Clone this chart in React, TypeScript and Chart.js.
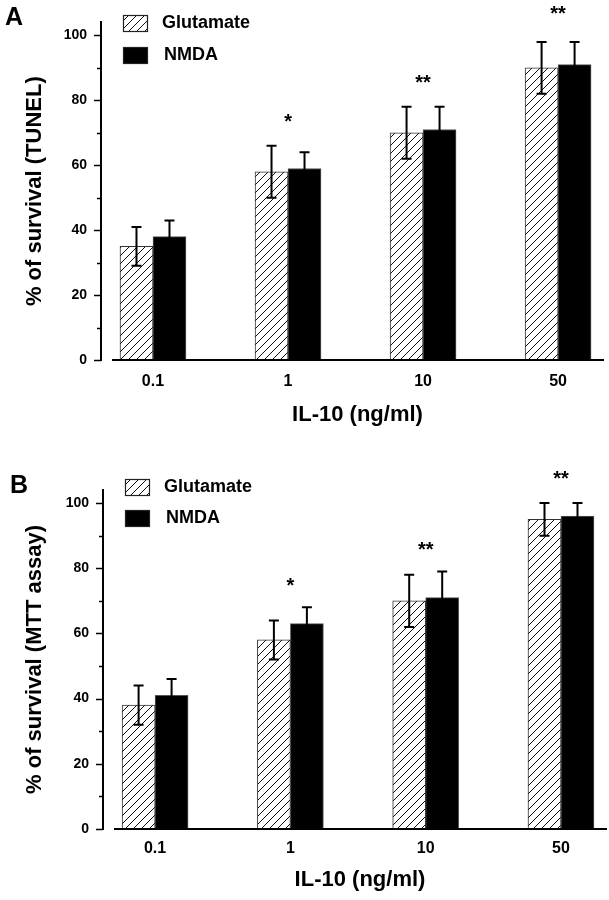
import React, { useEffect, useRef } from "react";
import { Chart, registerables } from "chart.js";

Chart.register(...registerables);

const FONT = "Arial, 'Liberation Sans', Helvetica, sans-serif";

// ---- data ----
const categories = ["0.1", "1", "10", "50"];
const seriesNames = ["Glutamate", "NMDA"];

const tunelGlutamate = [35, 58, 70, 90];
const tunelGlutamateErr = [6, 8, 8, 8];
const tunelNMDA = [38, 59, 71, 91];
const tunelNMDAErr = [5, 5, 7, 7];
const tunelSigMarks = ["", "*", "**", "**"];
const tunelSigY = [0, 75, 87, 108];

const mttGlutamate = [38, 58, 70, 95];
const mttGlutamateErr = [6, 6, 8, 5];
const mttNMDA = [41, 63, 71, 96];
const mttNMDAErr = [5, 5, 8, 4];
const mttSigMarks = ["", "*", "**", "**"];
const mttSigY = [0, 76, 87, 109];

const yMin = 0;
const yMax = 104;
const yStep = 10;
const yLabelStep = 20;
const xTitle = "IL-10 (ng/ml)";

function makeHatch(): CanvasPattern | string {
  const s = 8;
  const c = document.createElement("canvas");
  c.width = s;
  c.height = s;
  const g = c.getContext("2d");
  if (!g) return "#fff";
  g.fillStyle = "#fff";
  g.fillRect(0, 0, s, s);
  g.strokeStyle = "#111";
  g.lineWidth = 1;
  g.beginPath();
  g.moveTo(0, s);
  g.lineTo(s, 0);
  g.moveTo(-s / 2, s / 2);
  g.lineTo(s / 2, -s / 2);
  g.moveTo(s / 2, s * 1.5);
  g.lineTo(s * 1.5, s / 2);
  g.stroke();
  return g.createPattern(c, "repeat") || "#fff";
}

const decorPlugin = {
  id: "decor",
  afterDatasetsDraw(chart: any) {
    const ctx = chart.ctx;
    const y = chart.scales.y;
    chart.data.datasets.forEach((ds: any, di: number) => {
      const meta = chart.getDatasetMeta(di);
      meta.data.forEach((bar: any, i: number) => {
        const v = ds.data[i].y;
        const e = ds.errors[i];
        const top = y.getPixelForValue(v + e);
        const bot = y.getPixelForValue(v - e);
        ctx.save();
        ctx.strokeStyle = "#000";
        ctx.lineWidth = 2;
        ctx.beginPath();
        ctx.moveTo(bar.x, top);
        ctx.lineTo(bar.x, bot);
        ctx.moveTo(bar.x - 5, top);
        ctx.lineTo(bar.x + 5, top);
        ctx.moveTo(bar.x - 5, bot);
        ctx.lineTo(bar.x + 5, bot);
        ctx.stroke();
        ctx.restore();
      });
    });
  },
  afterDraw(chart: any, _args: any, opts: any) {
    const ctx = chart.ctx;
    const x = chart.scales.x;
    const y = chart.scales.y;
    const area = chart.chartArea;
    ctx.save();
    // x axis line
    ctx.strokeStyle = "#000";
    ctx.lineWidth = 2;
    ctx.beginPath();
    ctx.moveTo(area.left + opts.xAxisGap, area.bottom);
    ctx.lineTo(area.right, area.bottom);
    ctx.stroke();
    // y tick marks
    ctx.lineWidth = 1.5;
    y.ticks.forEach((t: any) => {
      const py = Math.round(y.getPixelForValue(t.value)) + 0.5;
      const len = t.value % yLabelStep === 0 ? 7 : 4;
      ctx.beginPath();
      ctx.moveTo(area.left - len, py);
      ctx.lineTo(area.left, py);
      ctx.stroke();
    });
    // significance marks
    ctx.fillStyle = "#000";
    ctx.font = `bold 20px ${FONT}`;
    ctx.textAlign = "center";
    ctx.textBaseline = "alphabetic";
    opts.sigMarks.forEach((m: string, i: number) => {
      if (!m) return;
      const px = x.getPixelForValue(i);
      const py = y.getPixelForValue(opts.sigY[i]);
      ctx.fillText(m, px, py + 11);
    });
    // legend
    const lg = opts.legend;
    chart.data.datasets.forEach((ds: any, di: number) => {
      const by = lg.y + di * lg.gap;
      ctx.fillStyle = ds.backgroundColor;
      ctx.fillRect(lg.x, by, 25, 17);
      ctx.strokeStyle = "#222";
      ctx.lineWidth = 1.2;
      ctx.strokeRect(lg.x + 0.5, by + 0.5, 24, 16);
      ctx.fillStyle = "#000";
      ctx.font = `bold 18px ${FONT}`;
      ctx.textAlign = "left";
      ctx.textBaseline = "middle";
      ctx.fillText(ds.label, lg.x + 39 + di * 2, by + 8);
    });
    // x axis title (centered like the reference)
    ctx.fillStyle = "#000";
    ctx.font = `bold 22px ${FONT}`;
    ctx.textAlign = "center";
    ctx.textBaseline = "middle";
    ctx.fillText(xTitle, (area.left + area.right) / 2 + opts.xTitleShift, opts.xTitleY);
    // panel letter
    ctx.font = `bold 25px ${FONT}`;
    ctx.textAlign = "left";
    ctx.textBaseline = "alphabetic";
    ctx.fillText(opts.letter, opts.letterX, opts.letterY);
    ctx.restore();
  },
};

type Layout = {
  top: number;
  right: number;
  yAxisWidth: number;
  xAxisHeight: number;
  xTickPad: number;
  xTitleY: number;
  letterX: number;
  letterY: number;
  legendX: number;
  legendY: number;
  legendGap: number;
};

type PanelProps = {
  letter: string;
  yTitle: string;
  glut: number[];
  glutErr: number[];
  nmda: number[];
  nmdaErr: number[];
  sigMarks: string[];
  sigY: number[];
  layout: Layout;
};

function Panel(p: PanelProps) {
  const ref = useRef<HTMLCanvasElement | null>(null);
  useEffect(() => {
    if (!ref.current) return;
    const L = p.layout;
    const hatch = makeHatch();
    const chart = new Chart(ref.current, {
      type: "bar",
      data: {
        datasets: [
          {
            label: seriesNames[0],
            data: p.glut.map((v, i) => ({ x: i, y: v })),
            errors: p.glutErr,
            backgroundColor: hatch as any,
            borderColor: "#333",
            borderWidth: 1,
            barThickness: 33,
          } as any,
          {
            label: seriesNames[1],
            data: p.nmda.map((v, i) => ({ x: i, y: v })),
            errors: p.nmdaErr,
            backgroundColor: "#000",
            borderColor: "#555",
            borderWidth: 1,
            barThickness: 33,
          } as any,
        ],
      },
      options: {
        animation: false,
        responsive: false,
        devicePixelRatio: 1,
        layout: { padding: { top: L.top, right: L.right, left: 0, bottom: 0 } },
        plugins: {
          legend: { display: false },
          tooltip: { enabled: false },
          decor: {
            letter: p.letter,
            letterX: L.letterX,
            letterY: L.letterY,
            sigMarks: p.sigMarks,
            sigY: p.sigY,
            xAxisGap: 11,
            xTitleShift: 5,
            xTitleY: L.xTitleY,
            legend: { x: L.legendX, y: L.legendY, gap: L.legendGap },
          },
        } as any,
        scales: {
          x: {
            type: "linear",
            min: -0.385,
            max: 3.34,
            offset: false,
            afterBuildTicks: (s: any) => {
              s.ticks = categories.map((_, i) => ({ value: i }));
            },
            ticks: {
              autoSkip: false,
              maxRotation: 0,
              padding: L.xTickPad,
              color: "#000",
              font: { size: 16, weight: "bold", family: FONT },
              callback: (v: any) => categories[v] ?? "",
            },
            grid: { display: false, drawTicks: false },
            border: { display: false },
            title: { display: false },
            afterFit: (s: any) => {
              s.height = L.xAxisHeight;
            },
          } as any,
          y: {
            min: yMin,
            max: yMax,
            ticks: {
              stepSize: yStep,
              includeBounds: false,
              padding: 14,
              color: "#000",
              font: { size: 14, weight: "bold", family: FONT },
              callback: (v: any) => (v % yLabelStep === 0 ? String(v) : ""),
            },
            grid: { display: false, drawTicks: false },
            border: { display: true, color: "#000", width: 2 },
            title: {
              display: true,
              text: p.yTitle,
              color: "#000",
              font: { size: 22, weight: "bold", family: FONT },
              padding: { top: 22, bottom: 0 },
            },
            afterFit: (s: any) => {
              s.width = L.yAxisWidth;
            },
          } as any,
        },
      },
      plugins: [decorPlugin as any],
    });
    return () => chart.destroy();
  }, []);
  return <canvas ref={ref} width={609} height={450} style={{ display: "block" }} />;
}

export default function App() {
  return (
    <div style={{ position: "absolute", left: 0, top: 0, width: 609, height: 900, background: "#fff" }}>
      <Panel
        letter="A"
        yTitle="% of survival (TUNEL)"
        glut={tunelGlutamate}
        glutErr={tunelGlutamateErr}
        nmda={tunelNMDA}
        nmdaErr={tunelNMDAErr}
        sigMarks={tunelSigMarks}
        sigY={tunelSigY}
        layout={{
          top: 22,
          right: 5,
          yAxisWidth: 101,
          xAxisHeight: 90,
          xTickPad: 12,
          xTitleY: 415,
          letterX: 5,
          letterY: 25,
          legendX: 123,
          legendY: 15,
          legendGap: 32,
        }}
      />
      <Panel
        letter="B"
        yTitle="% of survival (MTT assay)"
        glut={mttGlutamate}
        glutErr={mttGlutamateErr}
        nmda={mttNMDA}
        nmdaErr={mttNMDAErr}
        sigMarks={mttSigMarks}
        sigY={mttSigY}
        layout={{
          top: 40,
          right: 2,
          yAxisWidth: 103,
          xAxisHeight: 71,
          xTickPad: 10,
          xTitleY: 430,
          letterX: 10,
          letterY: 43,
          legendX: 125,
          legendY: 29,
          legendGap: 31,
        }}
      />
    </div>
  );
}
